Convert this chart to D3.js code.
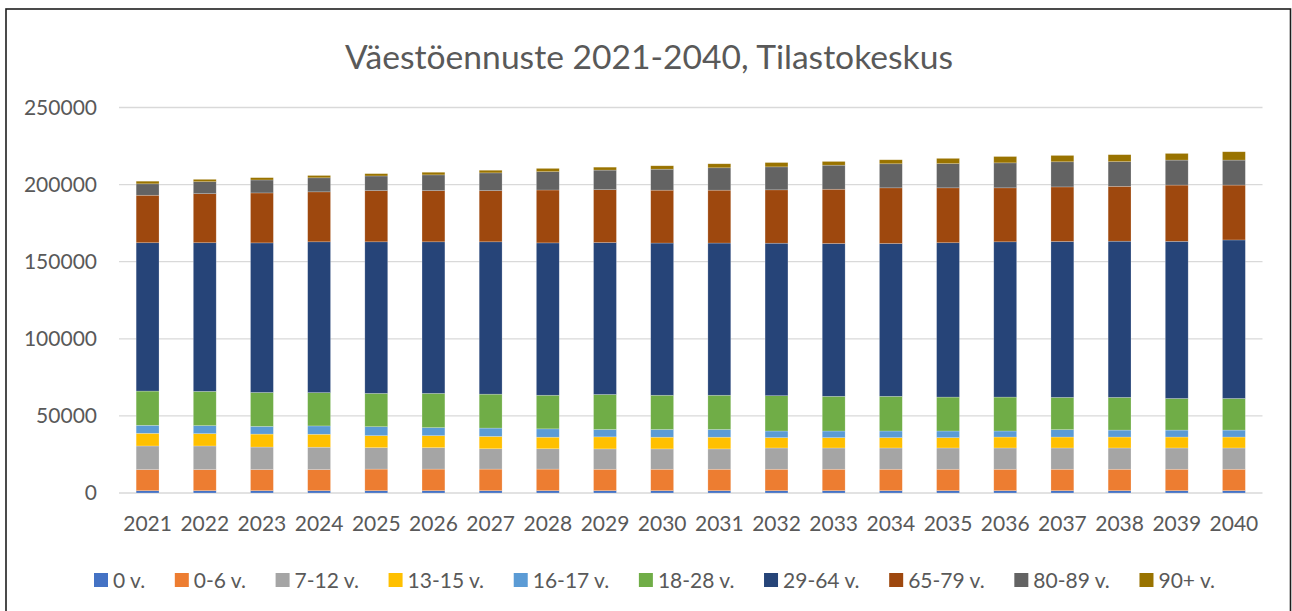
<!DOCTYPE html>
<html>
<head>
<meta charset="utf-8">
<script src="https://cdn.jsdelivr.net/npm/d3@7"></script>
<style>
  html, body { margin: 0; padding: 0; background: #fff; }
  svg { display: block; font-family: Lato, "Open Sans", sans-serif; }
</style>
</head>
<body>
<svg id="chart" width="1292" height="611"></svg>
<script>
// values
var years = ["2021", "2022", "2023", "2024", "2025", "2026", "2027", "2028", "2029", "2030",
	"2031", "2032", "2033", "2034", "2035", "2036", "2037", "2038", "2039", "2040"];

var groups = ["0 v.", "0-6 v.", "7-12 v.", "13-15 v.", "16-17 v.", "18-28 v.", "29-64 v.", "65-79 v.", "80-89 v.", "90+ v."];

var colors = ["#4472C4", "#ED7D31", "#A5A5A5", "#FFC000", "#5B9BD5", "#70AD47", "#264478", "#9E480E", "#636363", "#997300"];

var v0 = [1500, 1500, 1500, 1500, 1500, 1500, 1500, 1500, 1500, 1500,
	1500, 1500, 1500, 1500, 1500, 1500, 1500, 1500, 1500, 1500];
var v0_6 = [13700, 13700, 13700, 13700, 14000, 14000, 14000, 14000, 13900, 13900,
	13900, 13900, 13900, 13900, 13900, 13900, 13900, 13900, 13900, 13900];
var v7_12 = [15300, 15300, 14600, 14500, 13900, 13900, 13200, 13200, 13200, 13200,
	13200, 13800, 13800, 13800, 13800, 13800, 13800, 13800, 13800, 13800];
var v13_15 = [8200, 8000, 8400, 8400, 7800, 7800, 8000, 7500, 7800, 7600,
	7600, 6700, 6700, 6700, 6700, 7100, 7100, 7100, 7100, 7100];
var v16_17 = [5200, 5200, 5000, 5400, 5800, 5200, 5400, 5400, 4800, 5000,
	5000, 4300, 4300, 4300, 4300, 3900, 4800, 4500, 4500, 4500];
var v18_28 = [22200, 22200, 22000, 21600, 21600, 22200, 22000, 21800, 22700, 22200,
	22200, 22900, 22500, 22500, 22000, 22000, 20900, 21200, 20500, 20500];
var v29_64 = [96200, 96400, 97000, 97800, 98300, 98300, 98800, 98800, 98500, 98700,
	98700, 98900, 99100, 99100, 100100, 100700, 101100, 101300, 101900, 102800];
var v65_79 = [30800, 31800, 32400, 32400, 33200, 33200, 33200, 34300, 34300, 34300,
	34300, 34600, 35200, 36100, 35600, 35000, 35400, 35600, 36500, 35600];
var v80_89 = [7400, 7800, 8400, 9100, 9500, 10200, 11500, 11900, 12700, 13600,
	14500, 14900, 15600, 15600, 15700, 16200, 16300, 16000, 16200, 16200];
var v90 = [1700, 1500, 1500, 1500, 1500, 1700, 1700, 2100, 1900, 2200,
	2600, 2800, 2400, 2600, 3400, 4100, 4100, 4500, 4300, 5400];

var series = [v0, v0_6, v7_12, v13_15, v16_17, v18_28, v29_64, v65_79, v80_89, v90];
var yTicks = [0, 50000, 100000, 150000, 200000, 250000];

var textColor = "#595959";

var svg = d3.select("#chart");

// table for d3.stack
var table = years.map(function(y, i) {
	var row = { year: y };
	groups.forEach(function(g, k) { row[g] = series[k][i]; });
	return row;
});
var stacked = d3.stack().keys(groups)(table);

var x = d3.scaleBand().domain(years).range([119, 1262.5]).paddingInner(0.6).paddingOuter(0.3);
var y = d3.scaleLinear().domain([0, 250000]).range([493, 107.5]);

// outer frame
svg.append("rect")
	.attr("x", 6).attr("y", 9)
	.attr("width", 1284.5).attr("height", 640)
	.attr("fill", "#fff")
	.attr("stroke", "#1e1e1e")
	.attr("stroke-width", 1.6);

// gridlines
svg.append("g").selectAll("line")
	.data(yTicks)
	.enter().append("line")
	.attr("x1", 119).attr("x2", 1262.5)
	.attr("y1", function(d) { return y(d); })
	.attr("y2", function(d) { return y(d); })
	.attr("stroke", "#d9d9d9")
	.attr("stroke-width", 1.3);

// y axis labels
var yAxis = svg.append("g")
	.attr("transform", "translate(97,0)")
	.call(d3.axisLeft(y).tickValues(yTicks).tickSize(0).tickPadding(0).tickFormat(d3.format("d")));
yAxis.select(".domain").remove();
yAxis.selectAll("text")
	.attr("fill", textColor)
	.attr("font-size", 21)
	.attr("font-family", "Lato, sans-serif");

// x axis labels
var xAxis = svg.append("g")
	.attr("transform", "translate(0,493)")
	.call(d3.axisBottom(x).tickSize(0).tickPadding(23));
xAxis.select(".domain").remove();
xAxis.selectAll("text")
	.attr("fill", textColor)
	.attr("font-size", 21)
	.attr("font-family", "Lato, sans-serif");

// stacked bars
svg.append("g").selectAll("g")
	.data(stacked)
	.enter().append("g")
	.attr("fill", function(d, i) { return colors[i]; })
	.selectAll("rect")
	.data(function(d) { return d; })
	.enter().append("rect")
	.attr("x", function(d) { return x(d.data.year); })
	.attr("y", function(d) { return y(d[1]); })
	.attr("width", x.bandwidth())
	.attr("height", function(d) { return y(d[0]) - y(d[1]); })
	.attr("stroke", "rgba(255,255,255,0.35)")
	.attr("stroke-width", 0.6);

// title, fitted to the width it has in the reference
var title = svg.append("text")
	.attr("x", 649).attr("y", 69)
	.attr("text-anchor", "middle")
	.attr("fill", textColor)
	.attr("font-size", 32)
	.attr("font-weight", 400)
	.text("Väestöennuste 2021-2040, Tilastokeskus");
var tw = title.node().getComputedTextLength();
title.attr("font-size", 32 * 608 / tw);

// legend
var legend = svg.append("g");
var items = legend.selectAll("g")
	.data(groups)
	.enter().append("g");
items.append("rect")
	.attr("width", 14).attr("height", 14)
	.attr("y", 573)
	.attr("fill", function(d, i) { return colors[i]; });
items.append("text")
	.attr("x", 19).attr("y", 588)
	.attr("fill", textColor)
	.attr("font-size", 21)
	.text(function(d) { return d; });

var widths = [];
items.selectAll("text").each(function() { widths.push(this.getComputedTextLength()); });
var sumW = d3.sum(widths) + groups.length * 19;
var gap = (1215 - 94 - sumW) / (groups.length - 1);
var lx = 94;
items.each(function(d, i) {
	d3.select(this).attr("transform", "translate(" + lx + ",0)");
	lx += 19 + widths[i] + gap;
});
</script>
</body>
</html>
